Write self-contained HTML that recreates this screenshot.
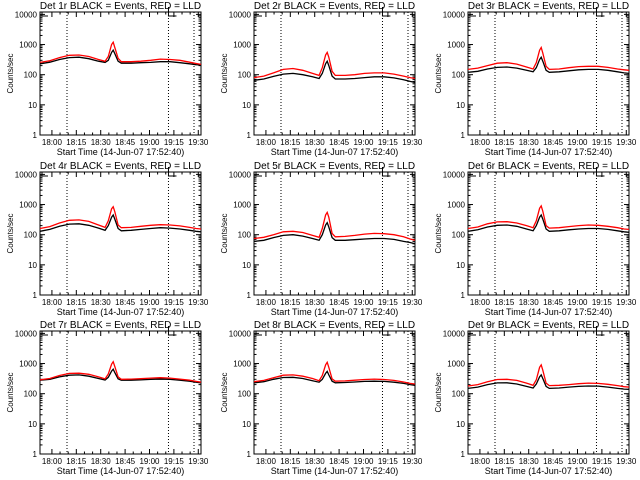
<!DOCTYPE html>
<html><head><meta charset="utf-8"><style>
html,body{margin:0;padding:0;background:#fff;}
svg{display:block;font-family:"Liberation Sans",sans-serif;}
</style></head><body>
<svg id="c" width="640" height="480" xmlns="http://www.w3.org/2000/svg"></svg>
<script>
const times=[0,6,12,18,24,30,36,40,42,44,45,46,48,50,56,62,68,74,80,86,92,96,99];
const detNames=["1r","2r","3r","4r","5r","6r","7r","8r","9r"];
const black1=[230,260,320,370,380,340,280,255,300,550,650,500,280,240,240,250,255,270,270,250,230,215,210];
const red1=[255,290,370,440,450,400,320,280,400,1000,1200,800,350,270,270,280,300,330,320,300,260,235,220];
const black2=[65,72,88,105,110,100,85,75,110,230,280,200,90,72,72,75,80,85,85,78,68,60,55];
const red2=[80,90,115,150,160,140,110,95,170,450,550,380,130,95,95,100,110,115,115,105,90,80,75];
const black3=[120,130,155,175,180,165,140,125,170,320,380,280,140,120,125,135,145,150,150,140,125,115,110];
const red3=[150,165,200,240,250,225,180,155,250,650,800,520,190,150,155,170,185,190,190,175,155,145,140];
const black4=[130,150,190,225,230,205,165,140,200,380,450,330,160,135,140,150,160,170,165,155,140,130,125];
const red4=[160,185,245,300,310,275,210,175,290,720,850,580,210,170,175,190,205,215,210,195,175,160,155];
const black5=[60,65,80,95,100,90,75,65,100,210,250,180,80,65,65,68,72,75,75,70,60,55,50];
const red5=[75,82,100,125,130,118,95,82,160,450,550,380,110,85,88,95,105,110,108,100,85,72,65];
const black6=[130,145,180,205,210,190,155,135,200,380,450,330,155,130,135,145,155,160,160,150,135,125,120];
const red6=[160,180,230,265,270,245,200,170,290,750,900,600,200,165,170,185,200,210,205,190,170,155,150];
const black7=[280,300,360,410,420,380,320,285,350,560,650,500,310,280,280,290,300,305,300,280,260,240,230];
const red7=[290,320,400,470,480,440,360,310,450,950,1150,800,360,300,305,315,330,340,330,305,280,255,240];
const black8=[230,250,300,345,350,320,270,240,300,470,550,420,260,230,235,245,255,260,255,240,220,200,190];
const red8=[250,275,340,410,420,380,320,270,400,900,1100,750,310,260,265,280,295,305,295,275,245,220,210];
const black9=[150,165,200,228,230,210,175,155,210,360,420,320,175,150,155,165,175,180,178,165,150,142,140];
const red9=[180,200,250,295,300,275,225,190,290,750,900,600,225,185,190,200,215,225,220,205,185,170,165];
const blacks=[black1,black2,black3,black4,black5,black6,black7,black8,black9];
const reds=[red1,red2,red3,red4,red5,red6,red7,red8,red9];
const xTickLabels=["18:00","18:15","18:30","18:45","19:00","19:15","19:30"];
const xTickMin=[7.33,22.33,37.33,52.33,67.33,82.33,97.33];
const yTickLabels=["1","10","100","1000","10000"];
const yTickVals=[1,10,100,1000,10000];
const dottedMin=[16.6,79,94.7];

const NS="http://www.w3.org/2000/svg";
const svg=document.getElementById('c');
function mk(tag,attrs,parent){const e=document.createElementNS(NS,tag);for(const k in attrs)e.setAttribute(k,attrs[k]);parent.appendChild(e);return e;}
const colX=[40,254,468], rowY=[12,172,331], W=161, H=123;
const tMax=99, yMinL=0, yMaxL=Math.log10(12000);
for(let p=0;p<9;p++){
  const L=colX[p%3], T=rowY[Math.floor(p/3)], B=T+H, R=L+W;
  const g=mk('g',{},svg);
  
  
  const xs=t=>L+t/tMax*W;
  const ys=v=>B-(Math.log10(v)-yMinL)/(yMaxL-yMinL)*H;
  const title=mk('text',{x:(L+R)/2,y:T-3,'text-anchor':'middle','font-size':'10'},g);
  title.textContent='Det '+detNames[p]+' BLACK = Events, RED = LLD';
  
  
  const box=mk('rect',{x:L,y:T,width:W,height:H,fill:'none',stroke:'#000','stroke-width':1},g);
  
  
  for(let i=0;i<yTickVals.length;i++){
    const y=ys(yTickVals[i]);
    mk('line',{x1:L,x2:L+5,y1:y,y2:y,stroke:'#000'},g);
    mk('line',{x1:R,x2:R-5,y1:y,y2:y,stroke:'#000'},g);
    const tl=mk('text',{x:L-3,y:y+3,'text-anchor':'end','font-size':'8'},g);
    tl.textContent=yTickLabels[i];
    
    
    if(i<yTickVals.length-1){for(let m=2;m<10;m++){const ym=ys(yTickVals[i]*m);
      mk('line',{x1:L,x2:L+2.5,y1:ym,y2:ym,stroke:'#000'},g);
      mk('line',{x1:R,x2:R-2.5,y1:ym,y2:ym,stroke:'#000'},g);}}
  }
  for(let i=0;i<xTickMin.length;i++){
    const x=xs(xTickMin[i]);
    mk('line',{x1:x,x2:x,y1:B,y2:B-5,stroke:'#000'},g);
    mk('line',{x1:x,x2:x,y1:T,y2:T+5,stroke:'#000'},g);
    for(let m=1;m<3;m++){const xm=xs(xTickMin[i]+m*5);if(xm<R){
      mk('line',{x1:xm,x2:xm,y1:B,y2:B-2.5,stroke:'#000'},g);
      mk('line',{x1:xm,x2:xm,y1:T,y2:T+2.5,stroke:'#000'},g);}}
    const tl=mk('text',{x:x,y:B+10,'text-anchor':'middle','font-size':'8'},g);
    tl.textContent=xTickLabels[i];
    
    
  }
  const xt=mk('text',{x:(L+R)/2,y:B+20,'text-anchor':'middle','font-size':'9'},g);
  xt.textContent='Start Time (14-Jun-07 17:52:40)';
  
  
  const yt=mk('text',{x:0,y:0,'text-anchor':'middle','font-size':'8',transform:`translate(${L-27},${(T+B)/2}) rotate(-90)`},g);
  yt.textContent='Counts/sec';
  
  
  for(const d of dottedMin){const x=xs(d);
    const dl=mk('line',{x1:x,x2:x,y1:T,y2:B,stroke:'#000','stroke-dasharray':'1,2'},g);
    
    }
  mk('path',{d:`M${L+2},${T} V${T+4} H${L+8}`,fill:'none',stroke:'#000'},g);
  const bx=xs(79);
  mk('path',{d:`M${bx},${T-5} V${T+4} H${bx+8} M${bx},${T} H${bx+6}`,fill:'none',stroke:'#000'},g);
  const bp=blacks[p].map((v,i)=>xs(times[i]).toFixed(1)+','+ys(v).toFixed(1)).join(' ');
  const rp=reds[p].map((v,i)=>xs(times[i]).toFixed(1)+','+ys(v).toFixed(1)).join(' ');
  const bl=mk('polyline',{points:bp,fill:'none',stroke:'#000','stroke-width':1.3},g);
  
  
  const rl=mk('polyline',{points:rp,fill:'none',stroke:'#ff0000','stroke-width':1.3},g);
  
  
}
</script>
</body></html>
